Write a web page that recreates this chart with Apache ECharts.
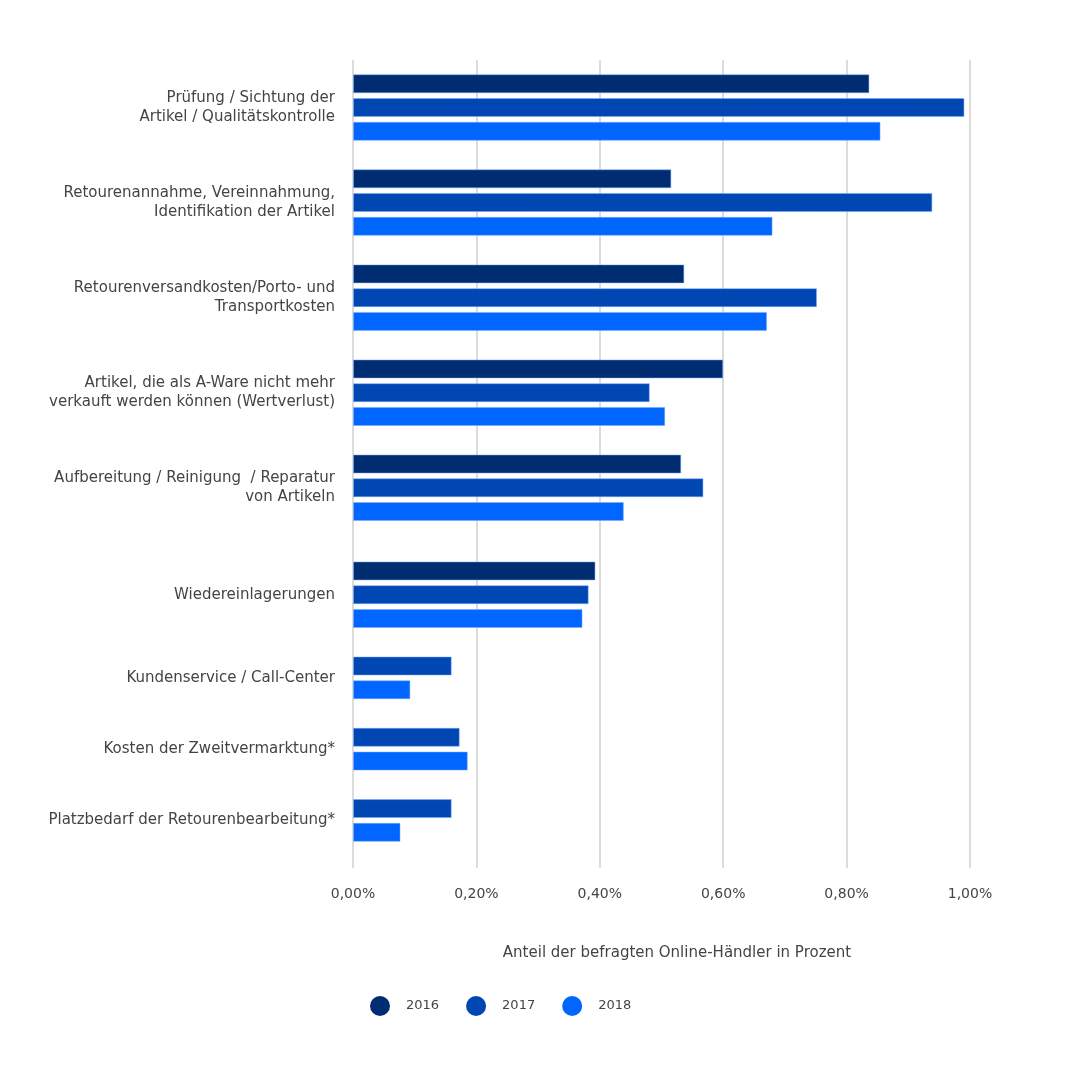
<!DOCTYPE html>
<html>
<head>
    <meta charset="utf-8">
    <title>Retourenkosten</title>
    <script src="https://cdn.jsdelivr.net/npm/echarts@6/dist/echarts.min.js"></script>
    <style>
        html, body { margin: 0; padding: 0; background: #fff; }
        #chart { width: 1065px; height: 1079px; }
    </style>
</head>
<body>
<div id="chart"></div>
<script>
    // Daten
    var categories = [
        'Prüfung / Sichtung der\nArtikel / Qualitätskontrolle',
        'Retourenannahme, Vereinnahmung,\nIdentifikation der Artikel',
        'Retourenversandkosten/Porto- und\nTransportkosten',
        'Artikel, die als A-Ware nicht mehr\nverkauft werden können (Wertverlust)',
        'Aufbereitung / Reinigung  / Reparatur\nvon Artikeln',
        'Wiedereinlagerungen',
        'Kundenservice / Call-Center',
        'Kosten der Zweitvermarktung*',
        'Platzbedarf der Retourenbearbeitung*'
    ];
    var years = ['2016', '2017', '2018'];
    var v2016 = [0.837, 0.516, 0.537, 0.600, 0.532, 0.393, null, null, null];
    var v2017 = [0.991, 0.939, 0.752, 0.481, 0.568, 0.382, 0.160, 0.173, 0.160];
    var v2018 = [0.855, 0.680, 0.671, 0.506, 0.439, 0.372, 0.093, 0.186, 0.077];
    var xTicks = [0, 0.2, 0.4, 0.6, 0.8, 1.0];

    // Layout: Abstand der Gruppen auf der y-Achse in halben Zeilen
    var leadSlots = 4, tailSlots = 4;
    var groupGap = [8, 8, 8, 8, 9, 7, 6, 6];
    var colors = ['#002d72', '#0047b3', '#0066ff'];

    var centres = [];
    var pos = leadSlots;
    categories.forEach(function (c, i) {
        centres.push(pos);
        pos += groupGap[i] || 0;
    });
    var slotCount = pos + tailSlots + 1;
    var slotLabels = [];
    for (var s = 0; s < slotCount; s++) slotLabels.push('');
    centres.forEach(function (p, i) { slotLabels[p] = categories[i]; });

    var values = [v2016, v2017, v2018];
    var slotData = values.map(function () {
        var arr = [];
        for (var s = 0; s < slotCount; s++) arr.push(null);
        return arr;
    });
    // Balken einer Gruppe um die Gruppenmitte verteilen
    categories.forEach(function (c, i) {
        var present = [];
        values.forEach(function (v, k) { if (v[i] != null) present.push(k); });
        var n = present.length;
        present.forEach(function (k, j) {
            slotData[k][centres[i] + 2 * j - (n - 1)] = values[k][i];
        });
    });

    var font = '"DejaVu Sans", sans-serif';
    var myChart = echarts.init(document.getElementById('chart'));
    myChart.setOption({
        backgroundColor: '#fff',
        animation: false,
        textStyle: { fontFamily: font },
        grid: { left: 353, right: 95, top: 60, bottom: 211, containLabel: false },
        legend: {
            data: years,
            left: 370,
            top: 996,
            padding: 0,
            icon: 'circle',
            itemWidth: 20,
            itemHeight: 20,
            itemGap: 27,
            itemStyle: { borderWidth: 0 },
            textStyle: { fontFamily: font, fontSize: 13, color: '#444', padding: [0, 0, 0, 11] }
        },
        xAxis: {
            type: 'value',
            min: xTicks[0],
            max: xTicks[xTicks.length - 1],
            interval: xTicks[1] - xTicks[0],
            name: 'Anteil der befragten Online-Händler in Prozent',
            nameLocation: 'middle',
            nameGap: 78,
            nameTextStyle: { fontFamily: font, fontSize: 15, color: '#444', padding: [0, 0, 0, 31] },
            axisLine: { show: false },
            axisTick: { show: false },
            axisLabel: {
                margin: 19,
                fontSize: 14,
                color: '#444',
                formatter: function (v) { return v.toFixed(2).replace('.', ',') + '%'; }
            },
            splitLine: { lineStyle: { color: '#dcdcdc', width: 2 } }
        },
        yAxis: {
            type: 'category',
            inverse: true,
            boundaryGap: false,
            data: slotLabels.map(function (l, i) { return String(i); }),
            axisLine: { show: false },
            axisTick: { show: false },
            splitLine: { show: false },
            axisLabel: {
                interval: 0,
                margin: 18,
                fontSize: 15,
                lineHeight: 19,
                color: '#444',
                align: 'right',
                formatter: function (v) { return slotLabels[Number(v)]; }
            }
        },
        series: years.map(function (y, k) {
            return {
                name: y,
                type: 'bar',
                data: slotData[k],
                barWidth: 19,
                barGap: '-100%',
                itemStyle: { color: colors[k], borderColor: 'rgba(120,170,255,0.5)', borderWidth: 1 }
            };
        })
    });
</script>
</body>
</html>
